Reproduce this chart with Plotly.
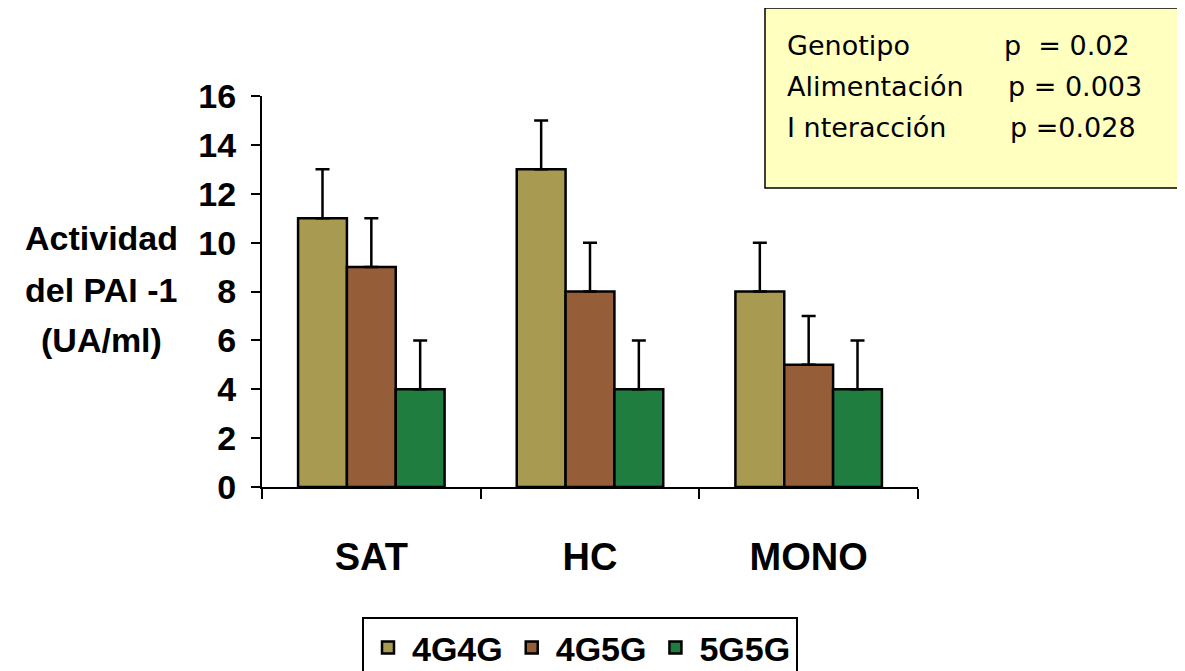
import plotly.graph_objects as go

categories = ["SAT", "HC", "MONO"]
series_names = ["4G4G", "4G5G", "5G5G"]
vals_4g4g = [11, 13, 8]
vals_4g5g = [9, 8, 5]
vals_5g5g = [4, 4, 4]
err_4g4g = [2, 2, 2]
err_4g5g = [2, 2, 2]
err_5g5g = [2, 2, 2]
y_ticks = [0, 2, 4, 6, 8, 10, 12, 14, 16]
y_title_lines = ["Actividad", "del PAI -1", "(UA/ml)"]
stats_labels = ["Genotipo", "Alimentación", "I nteracción"]
stats_values = ["p  = 0.02", "p = 0.003", "p =0.028"]

colors = ["#A99A52", "#955E39", "#1F7D40"]
values = [vals_4g4g, vals_4g5g, vals_5g5g]
errors = [err_4g4g, err_4g5g, err_5g5g]

BOLD = dict(family="Liberation Sans, Arial, sans-serif", weight="bold", color="black")

fig = go.Figure()
for name, v, e, c in zip(series_names, values, errors, colors):
    fig.add_trace(go.Bar(
        x=categories, y=v, name=name,
        marker=dict(color=c, line=dict(color="black", width=2.5)),
        error_y=dict(type="data", array=e, symmetric=False, arrayminus=[0]*len(e),
                     color="black", thickness=2.5, width=7),
    ))

OFF = 8  # page body margin offset in the screenshot
L, R, T, B = 262 - OFF, 918 - OFF, 96 - OFF, 487 - OFF
W, H = 1185, 671
pw, ph = R - L, B - T

def px(x):
    return (x - OFF - L) / pw

def py(y):
    return (B - (y - OFF)) / ph

fig.update_layout(
    width=W, height=H,
    paper_bgcolor="white", plot_bgcolor="white",
    margin=dict(l=L, r=W - R, t=T, b=H - B, autoexpand=False),
    barmode="group", bargap=0.33, bargroupgap=0,
    font=dict(family="Liberation Sans, Arial, sans-serif", color="black"),
    showlegend=True,
    legend=dict(
        orientation="h", x=px(362), xanchor="left", y=py(617), yanchor="top",
        bordercolor="black", borderwidth=2, bgcolor="white",
        font=dict(size=34, **BOLD),
        itemwidth=38, tracegroupgap=0,
    ),
)

fig.update_xaxes(
    type="category", showline=True, linecolor="black", linewidth=2,
    ticks="outside", tickson="boundaries", ticklen=10, tickwidth=2, tickcolor="black",
    tickfont=dict(size=38, **BOLD),
    ticklabelstandoff=35, showgrid=False, zeroline=False,
)
fig.update_yaxes(
    range=[0, 16], tickvals=y_ticks, showline=True, linecolor="black", linewidth=2,
    ticks="outside", ticklen=9, tickwidth=2, tickcolor="black",
    tickfont=dict(size=34, **BOLD),
    ticklabelstandoff=8, showgrid=False, zeroline=False,
)

# Y axis title, three centered lines
for line, yc in zip(y_title_lines, [238, 290, 340]):
    fig.add_annotation(
        text=line, xref="paper", yref="paper", x=px(101), y=py(yc),
        xanchor="center", yanchor="middle", showarrow=False,
        font=dict(size=34, **BOLD),
    )

# Stats box
fig.add_shape(type="rect", xref="paper", yref="paper",
              x0=px(765), x1=px(1200), y0=py(188), y1=py(8),
              fillcolor="#FFFFC0", line=dict(color="black", width=1.5), layer="above")
row_y = [45, 87, 128]
val_x = [1002, 1006, 1008]
for lab, val, yp, vx in zip(stats_labels, stats_values, row_y, val_x):
    fig.add_annotation(text=lab, xref="paper", yref="paper", x=px(785), y=py(yp),
                       xanchor="left", yanchor="middle", showarrow=False,
                       font=dict(size=27, family="DejaVu Sans, Verdana, sans-serif", color="black"))
    fig.add_annotation(text=val, xref="paper", yref="paper", x=px(vx), y=py(yp),
                       xanchor="left", yanchor="middle", showarrow=False,
                       font=dict(size=27, family="DejaVu Sans, Verdana, sans-serif", color="black"))

fig.write_html("out.html")
